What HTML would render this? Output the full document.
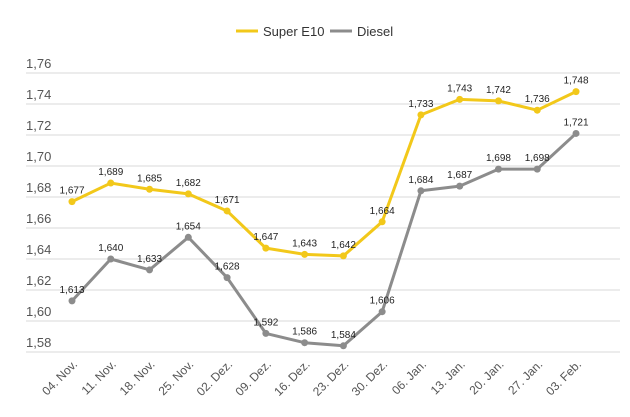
<!DOCTYPE html>
<html><head><meta charset="utf-8"><style>
body{margin:0;background:#fff;font-family:"Liberation Sans",sans-serif;}
svg text{font-family:"Liberation Sans",sans-serif;}
</style></head><body>
<svg id="c" width="630" height="412">
<g>
<line x1="236" y1="31" x2="258" y2="31" stroke="#f2c81a" stroke-width="3"/>
<text x="263" y="36" font-size="13" fill="#333">Super E10</text>
<line x1="330" y1="31" x2="352" y2="31" stroke="#8c8c8c" stroke-width="3"/>
<text x="357" y="36" font-size="13" fill="#333">Diesel</text>
</g>
<g id="grid"></g><g id="xl"></g><g id="s"></g>
</svg>
<script>
const categories=["04. Nov.","11. Nov.","18. Nov.","25. Nov.","02. Dez.","09. Dez.","16. Dez.","23. Dez.","30. Dez.","06. Jan.","13. Jan.","20. Jan.","27. Jan.","03. Feb."];
const superE10=[1.677,1.689,1.685,1.682,1.671,1.647,1.643,1.642,1.664,1.733,1.743,1.742,1.736,1.748];
const diesel=[1.613,1.640,1.633,1.654,1.628,1.592,1.586,1.584,1.606,1.684,1.687,1.698,1.698,1.721];
const yTicks=[1.58,1.60,1.62,1.64,1.66,1.68,1.70,1.72,1.74,1.76];
const NS="http://www.w3.org/2000/svg";
function x(i){return 72+i*38.77;}
function y(v){return 352-(v-1.58)/0.02*31;}
function mk(t,a,p){const e=document.createElementNS(NS,t);for(const k in a)e.setAttribute(k,a[k]);p.appendChild(e);return e;}
const g=document.getElementById('grid');
yTicks.forEach(v=>{
 const l=mk('line',{x1:26,x2:620,y1:y(v),y2:y(v),stroke:'#d9d9d9','stroke-width':1},g);
 
 
 const t=mk('text',{x:26,y:y(v)-5,'font-size':13,fill:'#555'},g);
 t.textContent=v.toFixed(2).replace('.',',');
 
 
});
const xl=document.getElementById('xl');
categories.forEach((c,i)=>{
 const t=mk('text',{x:x(i)+6,y:365,'font-size':12,fill:'#555','text-anchor':'end',transform:`rotate(-45 ${x(i)+6} 365)`},xl);
 t.textContent=c;
 
 
});
const s=document.getElementById('s');
function series(vals,col,name){
 const p=mk('polyline',{points:vals.map((v,i)=>x(i)+','+y(v)).join(' '),fill:'none',stroke:col,'stroke-width':3,'stroke-linejoin':'round'},s);
 
 
 vals.forEach((v,i)=>{
  const c=mk('circle',{cx:x(i),cy:y(v),r:3.5,fill:col},s);
  
  
  const t=mk('text',{x:x(i),y:y(v)-8,'font-size':10,fill:'#222','text-anchor':'middle'},s);
  t.textContent=v.toFixed(3).replace('.',',');
  
  
 });
}
series(diesel,'#8c8c8c','diesel');
series(superE10,'#f2c81a','super-e10');
</script>
</body></html>
